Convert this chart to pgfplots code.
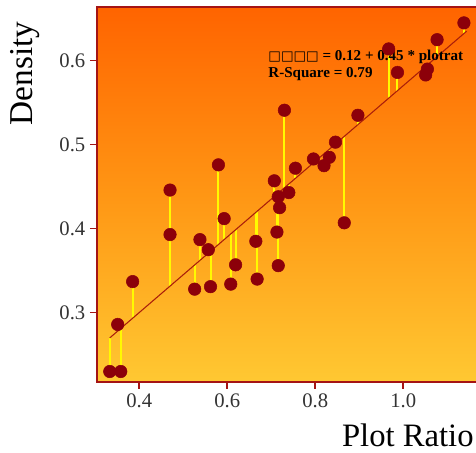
\documentclass[border=0pt]{standalone}
\usepackage{fontspec}
\setmainfont{Liberation Serif}
\newfontfamily\symfont{DejaVu Sans}
\usepackage{pgfplots}
\pgfplotsset{compat=1.18}
\usepackage{pgfplotstable}
\definecolor{axred}{RGB}{165,20,20}
\definecolor{ptred}{RGB}{140,0,10}
\definecolor{regline}{RGB}{170,30,10}
\definecolor{bgtop}{RGB}{255,100,0}
\definecolor{bgmid}{RGB}{255,150,20}
\definecolor{bgbot}{RGB}{255,200,50}
\definecolor{resid}{RGB}{255,250,0}
\pgfplotstableread{
x y
0.333 0.230
0.358 0.230
0.351 0.286
0.385 0.337
0.470 0.446
0.470 0.393
0.580 0.476
0.538 0.387
0.557 0.375
0.526 0.328
0.562 0.331
0.593 0.412
0.608 0.334
0.619 0.357
0.665 0.385
0.668 0.340
0.707 0.457
0.716 0.438
0.719 0.425
0.713 0.396
0.716 0.356
0.740 0.443
0.755 0.472
0.796 0.483
0.820 0.475
0.832 0.485
0.846 0.503
0.866 0.407
0.730 0.541
0.897 0.535
0.967 0.614
0.987 0.586
1.051 0.583
1.055 0.590
1.077 0.625
1.138 0.645
}\data
\begin{document}
\begin{tikzpicture}
\begin{axis}[
  name=ax,
  scale only axis,
  width=295.65pt, height=281.25pt,
  xmin=0.304, xmax=1.2, ymin=0.2175, ymax=0.6639,
  axis background/.style={top color=bgtop, bottom color=bgbot, middle color=bgmid},
  axis line style={axred, line width=0.8pt},
  xtick={0.4,0.6,0.8,1.0}, ytick={0.3,0.4,0.5,0.6},
  xticklabels={0.4,0.6,0.8,1.0},
  yticklabels={0.3,0.4,0.5,0.6},
  tick align=outside, tick pos=left,
  major tick length=5.25pt,
  tick style={axred, line width=1.2pt},
  ticklabel style={font=\fontsize{15.5pt}{18pt}\selectfont, text=black!80},
  /pgf/number format/assume math mode=true,
  xlabel={Plot Ratio}, ylabel={Density},
  xlabel style={at={(rel axis cs:0.621,-0.1725)}, anchor=base west, font=\fontsize{24.5pt}{27pt}\selectfont, inner sep=0pt},
  ylabel style={at={(rel axis cs:-0.1624,0.823)}, anchor=base, font=\fontsize{25pt}{28pt}\selectfont, inner sep=0pt},
  clip=false,
]
\addplot[resid, line width=1.5pt, no marks, quiver={u=0, v={0.12+0.45*x-y}}] table[x=x, y=y] {\data};
\addplot[regline, line width=0.8pt, no marks] coordinates {(0.333,0.270) (1.144,0.635)};
\addplot[only marks, mark=*, mark size=4.7pt, mark options={fill=ptred, draw=ptred}] table[x=x, y=y] {\data};
\node[anchor=base west, inner sep=0pt, font=\bfseries\fontsize{11.3pt}{12pt}\selectfont] at (axis cs:0.693,0.600) {{\symfont\mdseries\fontsize{10pt}{11pt}\selectfont □□□□} = 0.12 + 0.45 * plotrat};
\node[anchor=base west, inner sep=0pt, font=\bfseries\fontsize{11.3pt}{12pt}\selectfont] at (axis cs:0.693,0.580) {R-Square = 0.79};
\end{axis}
\pgfresetboundingbox
\path[use as bounding box] ([xshift=-72.75pt,yshift=-53.25pt]ax.south west) rectangle ++(357pt,339.75pt);
\end{tikzpicture}
\end{document}
